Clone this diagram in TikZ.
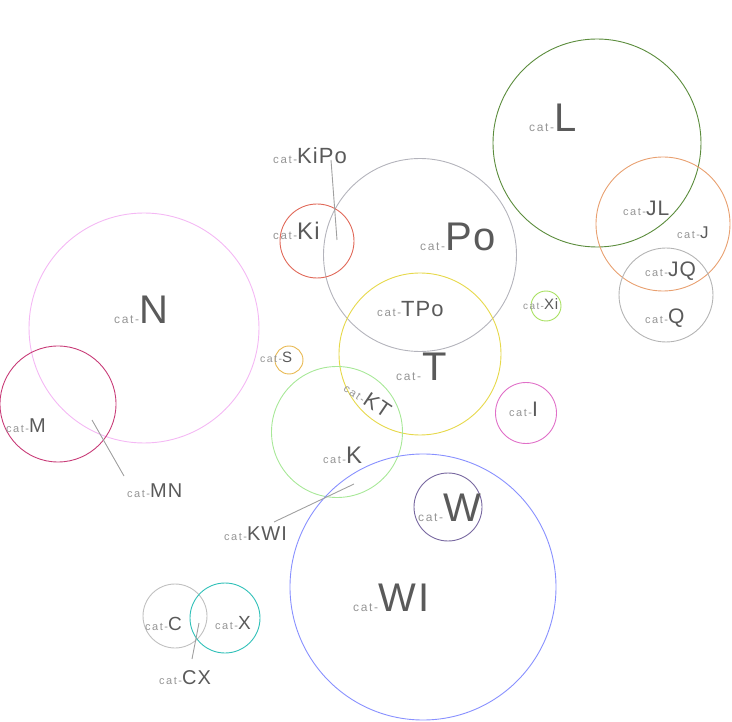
\documentclass[tikz,border=0pt]{standalone}
\usepackage{fontspec}
\setmainfont{Liberation Sans}
\newfontfamily\spacedfont[LetterSpace=14]{Liberation Sans}
\newfontfamily\namefont[LetterSpace=5]{Liberation Sans}

\definecolor{catgray}{HTML}{959595}
\definecolor{namegray}{HTML}{5A5A5A}
\definecolor{leadgray}{HTML}{A0A0A0}
\definecolor{cL}{HTML}{5B8C3C}
\definecolor{cJ}{HTML}{E8A070}
\definecolor{cQ}{HTML}{B4B4B4}
\definecolor{cXi}{HTML}{A8E060}
\definecolor{cPo}{HTML}{B4B4BC}
\definecolor{cKi}{HTML}{E06858}
\definecolor{cT}{HTML}{E6D84A}
\definecolor{cN}{HTML}{F4B8F4}
\definecolor{cM}{HTML}{C83C78}
\definecolor{cS}{HTML}{E8B850}
\definecolor{cK}{HTML}{A8E898}
\definecolor{cI}{HTML}{E070C8}
\definecolor{cWI}{HTML}{8890FF}
\definecolor{cW}{HTML}{7868A0}
\definecolor{cC}{HTML}{C0C0C0}
\definecolor{cX}{HTML}{30C0B8}

% prefix and name of a label
\newcommand{\pfx}[1]{{\spacedfont\fontsize{#1}{#1}\selectfont\color{catgray}cat-}}
\newcommand{\nm}[2]{{\namefont\fontsize{#1}{#1}\selectfont\color{namegray}#2}}

\begin{document}
\begin{tikzpicture}[
		x=1pt, y=-1pt,
		ring/.style={circle, draw, line width=0.9pt, inner sep=0pt, outer sep=0pt},
		lbl/.style={anchor=base west, inner sep=0pt},
		leader/.style={draw=leadgray, line width=0.9pt},
	]
		\useasboundingbox (0,0) rectangle (732,722);

		% sets
		\node[ring, draw=cL, minimum size=208pt] (L) at (597,143) {};
		\node[ring, draw=cJ, minimum size=134pt] (J) at (663,224) {};
		\node[ring, draw=cQ, minimum size=94pt] (Q) at (666,295) {};
		\node[ring, draw=cXi, minimum size=30pt] (Xi) at (546,306) {};
		\node[ring, draw=cPo, minimum size=193pt] (Po) at (420,255) {};
		\node[ring, draw=cKi, minimum size=74pt] (Ki) at (317,241) {};
		\node[ring, draw=cT, minimum size=162pt] (T) at (420,354) {};
		\node[ring, draw=cN, minimum size=230pt] (N) at (144,328) {};
		\node[ring, draw=cM, minimum size=116pt] (M) at (58,404) {};
		\node[ring, draw=cS, minimum size=28pt] (S) at (289,360) {};
		\node[ring, draw=cK, minimum size=131pt] (K) at (337,432) {};
		\node[ring, draw=cI, minimum size=61pt] (I) at (526,413) {};
		\node[ring, draw=cWI, minimum size=266pt] (WI) at (423,587) {};
		\node[ring, draw=cW, minimum size=68pt] (W) at (448,507) {};
		\node[ring, draw=cC, minimum size=64pt] (C) at (175,616) {};
		\node[ring, draw=cX, minimum size=70pt] (X) at (225,618) {};

		% labels
		\node[lbl] (lL) at (529,132) {\pfx{12}\nm{40}{L}};
		\node[lbl] (lN) at (114,324) {\pfx{12}\nm{40}{N}};
		\node[lbl] (lPo) at (420,251) {\pfx{12}\nm{40}{Po}};
		\node[lbl] (lT) at (396,381) {\pfx{12}\,\nm{40}{T}};
		\node[lbl] (lW) at (418,521) {\pfx{12}\nm{40}{W}};
		\node[lbl] (lWI) at (353,611) {\pfx{12}\nm{40}{WI}};
		\node[lbl] (lKiPo) at (273,164) {\pfx{11.5}\nm{22}{KiPo}};
		\node[lbl] (lKi) at (273,240) {\pfx{11.5}\nm{24}{Ki}};
		\node[lbl] (lTPo) at (377,317) {\pfx{11.5}\nm{22}{TPo}};
		\node[lbl] (lM) at (6,433) {\pfx{11}\nm{20}{M}};
		\node[lbl] (lMN) at (127,497) {\pfx{11}\nm{20}{MN}};
		\node[lbl] (lK) at (323,464) {\pfx{11}\nm{24}{K}};
		\node[lbl] (lKWI) at (224,540) {\pfx{11}\nm{20}{KWI}};
		\node[lbl] (lC) at (145,630) {\pfx{11}\nm{19}{C}};
		\node[lbl] (lX) at (215,629) {\pfx{11}\nm{19}{X}};
		\node[lbl] (lCX) at (159,684) {\pfx{11}\nm{20}{CX}};
		\node[lbl] (lJL) at (623,216) {\pfx{11}\nm{21}{JL}};
		\node[lbl] (lJ) at (677,239) {\pfx{11}\nm{17}{J}};
		\node[lbl] (lJQ) at (645,277) {\pfx{11}\nm{21}{JQ}};
		\node[lbl] (lQ) at (645,324) {\pfx{11}\nm{21}{Q}};
		\node[lbl] (lXi) at (523,310) {\pfx{10}\nm{15}{Xi}};
		\node[lbl] (lI) at (509,417) {\pfx{11}\nm{21}{I}};
		\node[lbl] (lS) at (260,363) {\pfx{10.5}\nm{15}{S}};
		\node[inner sep=0pt, rotate=-34] (lKT) at (368,399) {\pfx{11}\nm{21}{KT}};

		% leader lines
		\coordinate (kipo-a) at (331,160);
		\coordinate (kipo-b) at (337,240);
		\coordinate (mn-a) at (124,476);
		\coordinate (mn-b) at (92,420);
		\coordinate (kwi-a) at (274,522);
		\coordinate (kwi-b) at (354,484);
		\coordinate (cx-a) at (192,659);
		\coordinate (cx-b) at (199,623);
		\draw[leader] (kipo-a) -- (kipo-b);
		\draw[leader] (mn-a) -- (mn-b);
		\draw[leader] (kwi-a) -- (kwi-b);
		\draw[leader] (cx-a) -- (cx-b);
	\end{tikzpicture}
\end{document}
